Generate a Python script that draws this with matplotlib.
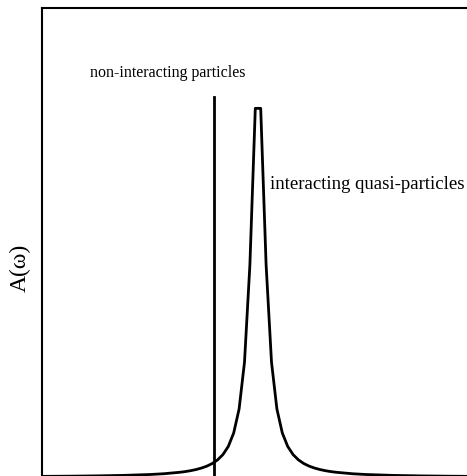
import numpy as np
import matplotlib
matplotlib.use("Agg")
import matplotlib.pyplot as plt

plt.rcParams['font.family'] = ['Liberation Serif', 'DejaVu Serif']

# spectral function (symmetric about the peak)
w_half = [0.05, 0.15, 0.25, 0.35, 0.45, 0.55, 0.65, 0.75, 0.85, 0.95,
          1.05, 1.15, 1.25, 1.35, 1.45, 1.75, 2.0, 2.5, 3.0, 3.5, 4.0]
A_half = [0.908, 0.523, 0.283, 0.1675, 0.1085, 0.0753, 0.0551, 0.0420, 0.0330, 0.0266,
          0.0219, 0.0183, 0.0155, 0.0133, 0.0116, 0.0080, 0.00614, 0.00394, 0.00274, 0.00201, 0.00154]
omega = [-w for w in w_half[::-1]] + w_half
A = A_half[::-1] + A_half

# non-interacting delta peak
w_free = -0.82
A_free_top = 0.936

fig = plt.figure(figsize=(4.67, 4.76), dpi=100)
ax = fig.add_axes([42/467, -4/476, (474-42)/467, (476+4-8)/476])
ax.plot(omega, A, color='black', lw=2)
ax.plot([w_free, w_free], [-0.1, A_free_top], color='black', lw=2)
ax.set_xlim(-4, 4)
ax.set_ylim(-3/406, 469/406)
ax.set_xticks([])
ax.set_yticks([])
for s in ax.spines.values():
    s.set_linewidth(1.5)

ax.text(-1.67, 0.995, 'non-interacting particles', fontsize=11.5, ha='center', va='center')
ax.text(0.22, 0.72, 'interacting quasi-particles', fontsize=13.5, ha='left', va='center')
fig.text(20/467, 1 - 268/476, 'A(ω)', fontsize=17, rotation=90, ha='center', va='center')

fig.savefig('out.png', dpi=100)
